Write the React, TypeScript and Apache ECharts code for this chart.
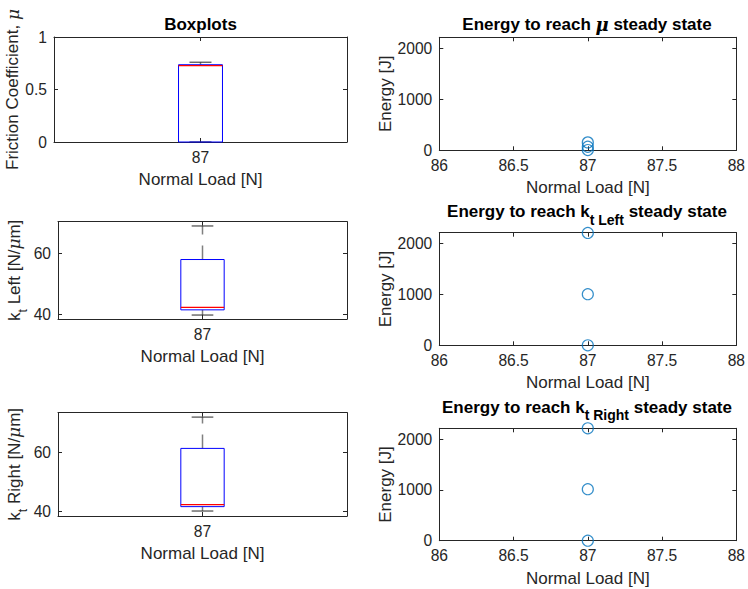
import React, { useEffect, useRef } from "react";
import * as echarts from "echarts";

// ---- data ----
const loadCategory = ["87"];
// boxplot statistics: [min, q1, median, q3, max]
const frictionStats = [0, 0, 0.727, 0.736, 0.76];
const ktLeftStats = [39.8, 41.5, 42.3, 58.0, 69.0];
const ktRightStats = [40.0, 41.5, 42.2, 61.4, 72.1];

const energyLoad = [87, 87, 87];
const energyMu = [5, 70, 155];
const energyKtLeft = [0, 1005, 2210];
const energyKtRight = [0, 1015, 2215];

const frictionTicks = [0, 0.5, 1];
const ktTicks = [40, 60];
const energyTicks = [0, 1000, 2000];

const TXT = "#262626";
const FONT = "Liberation Sans";
const TICK_FS = 15.6;
const LABEL_FS = 17;

const grids = [
  { left: 54, top: 37, width: 293, height: 105 },
  { left: 58, top: 221.7, width: 289, height: 97.3 },
  { left: 58, top: 412.7, width: 289, height: 103.3 },
  { left: 439.3, top: 37.3, width: 297.4, height: 113 },
  { left: 439.3, top: 232.7, width: 297.4, height: 112.6 },
  { left: 439.3, top: 428.3, width: 297.4, height: 112.4 },
];

const lineStyle = { color: TXT, width: 1 };

function xName(gridIndex: number, gap: number) {
  return {
    name: "Normal Load [N]",
    nameLocation: "middle",
    nameGap: gap,
    nameTextStyle: { fontSize: LABEL_FS, color: TXT, fontFamily: FONT },
  };
}

function catX(gridIndex: number, bottom: boolean) {
  return {
    type: "category",
    gridIndex,
    position: bottom ? "bottom" : "top",
    data: loadCategory,
    boundaryGap: true,
    axisLine: { show: true, onZero: false, lineStyle },
    axisTick: { show: true, inside: true, length: 4, alignWithLabel: true, lineStyle },
    axisLabel: {
      show: bottom,
      margin: 7,
      color: TXT,
      fontSize: TICK_FS,
      fontFamily: FONT,
    },
    splitLine: { show: false },
    ...(bottom ? xName(gridIndex, 29) : {}),
  };
}

function valX(gridIndex: number, bottom: boolean) {
  return {
    type: "value",
    gridIndex,
    position: bottom ? "bottom" : "top",
    min: 86,
    max: 88,
    interval: 0.5,
    axisLine: { show: true, onZero: false, lineStyle },
    axisTick: { show: true, inside: true, length: 4, lineStyle },
    axisLabel: {
      show: bottom,
      margin: 7,
      color: TXT,
      fontSize: TICK_FS,
      fontFamily: FONT,
      formatter: (v: number) => String(v),
    },
    splitLine: { show: false },
    ...(bottom ? xName(gridIndex, 29) : {}),
  };
}

function valY(
  gridIndex: number,
  left: boolean,
  min: number,
  max: number,
  ticks: number[],
  name?: string,
  nameGap?: number,
  rich?: any
) {
  const base: any = {
    type: "value",
    gridIndex,
    position: left ? "left" : "right",
    min,
    max,
    axisLine: { show: true, onZero: false, lineStyle },
    axisTick: { show: true, inside: true, length: 4, customValues: ticks, lineStyle },
    axisLabel: {
      show: left,
      customValues: ticks,
      margin: 7,
      color: TXT,
      fontSize: TICK_FS,
      fontFamily: FONT,
      formatter: (v: number) => String(v),
    },
    splitLine: { show: false },
  };
  if (left && name) {
    base.name = name;
    base.nameLocation = "middle";
    base.nameGap = nameGap;
    base.nameTextStyle = {
      fontSize: LABEL_FS,
      color: TXT,
      fontFamily: FONT,
      rich: rich,
    };
  }
  return base;
}

const muRich = {
  mu: { fontSize: LABEL_FS, color: TXT, fontFamily: "DejaVu Serif", fontStyle: "italic" },
};
const ktRich = {
  b: { fontSize: LABEL_FS, color: TXT, fontFamily: FONT, lineHeight: 30, verticalAlign: "middle" },
  mu: { fontSize: LABEL_FS, color: TXT, fontFamily: "DejaVu Serif", fontStyle: "italic", lineHeight: 30, verticalAlign: "middle" },
  s: { fontSize: 12.5, color: TXT, fontFamily: FONT, lineHeight: 12, verticalAlign: "bottom" },
};

function renderBox(params: any, api: any) {
  const cat = api.value(0);
  const mn = api.value(1);
  const q1 = api.value(2);
  const md = api.value(3);
  const q3 = api.value(4);
  const mx = api.value(5);
  const band = api.size([1, 0])[0];
  const hw = band * 0.075;
  const cw = band * 0.0375;
  const pMin = api.coord([cat, mn]);
  const pQ1 = api.coord([cat, q1]);
  const pMd = api.coord([cat, md]);
  const pQ3 = api.coord([cat, q3]);
  const pMax = api.coord([cat, mx]);
  const cx = pMin[0];
  const dash = { stroke: "#808080", lineWidth: 1.5, lineDash: [14, 11], fill: "none" };
  return {
    type: "group",
    children: [
      { type: "line", shape: { x1: cx, y1: pQ3[1], x2: cx, y2: pMax[1] }, style: dash },
      { type: "line", shape: { x1: cx, y1: pQ1[1], x2: cx, y2: pMin[1] }, style: dash },
      { type: "line", shape: { x1: cx - cw, y1: pMax[1], x2: cx + cw, y2: pMax[1] }, style: { stroke: "#262626", lineWidth: 1 } },
      { type: "line", shape: { x1: cx - cw, y1: pMin[1], x2: cx + cw, y2: pMin[1] }, style: { stroke: "#262626", lineWidth: 1 } },
      {
        type: "rect",
        shape: { x: cx - hw, y: pQ3[1], width: 2 * hw, height: pQ1[1] - pQ3[1] },
        style: { stroke: "#0000ff", fill: "none", lineWidth: 1 },
      },
      { type: "line", shape: { x1: cx - hw, y1: pMd[1], x2: cx + hw, y2: pMd[1] }, style: { stroke: "#ff0000", lineWidth: 1.2 } },
    ],
  };
}

function boxSeries(idx: number, stats: number[]) {
  return {
    type: "custom",
    xAxisIndex: idx * 2,
    yAxisIndex: idx * 2,
    renderItem: renderBox,
    encode: { x: 0, y: [1, 2, 3, 4, 5] },
    data: [[0, ...stats]],
    z: 5,
  };
}

function scatterSeries(idx: number, ys: number[]) {
  return {
    type: "scatter",
    xAxisIndex: idx * 2,
    yAxisIndex: idx * 2,
    symbol: "circle",
    symbolSize: 11,
    itemStyle: { color: "rgba(0,0,0,0)", borderColor: "#0072BD", borderWidth: 1.2 },
    data: energyLoad.map((x, i) => [x, ys[i]]),
    clip: false,
    z: 5,
  };
}

const titleBase = { fontSize: 17, fontWeight: "bold", fill: "#000", fontFamily: FONT };
const titleRich = {
  b: { fontSize: 17, fontWeight: "bold", fill: "#000", color: "#000", fontFamily: FONT, lineHeight: 30, verticalAlign: "middle" },
  mu: { fontSize: 18, fontWeight: "bold", fill: "#000", color: "#000", fontFamily: "DejaVu Serif", fontStyle: "italic", lineHeight: 30, verticalAlign: "middle" },
  s: { fontSize: 14, fontWeight: "bold", fill: "#000", color: "#000", fontFamily: FONT, lineHeight: 12, verticalAlign: "bottom" },
};

export default function App() {
  const ref = useRef<HTMLDivElement>(null);
  useEffect(() => {
    if (!ref.current) return;
    const chart = echarts.init(ref.current, undefined, { renderer: "svg" });
    const eMax = 2215;
    chart.setOption({
      animation: false,
      backgroundColor: "#ffffff",
      grid: grids.map((g) => ({ ...g, containLabel: false })),
      xAxis: [
        catX(0, true), catX(0, false),
        catX(1, true), catX(1, false),
        catX(2, true), catX(2, false),
        valX(3, true), valX(3, false),
        valX(4, true), valX(4, false),
        valX(5, true), valX(5, false),
      ],
      yAxis: [
        valY(0, true, 0, 1, frictionTicks, "Friction Coefficient, {mu|μ}", 30.5, muRich),
        valY(0, false, 0, 1, frictionTicks),
        valY(1, true, 38.5, 70.4, ktTicks, "{b|k}{s|t}{b| Left [N/}{mu|μ}{b|m]}", 29, ktRich),
        valY(1, false, 38.5, 70.4, ktTicks),
        valY(2, true, 38.3, 73.6, ktTicks, "{b|k}{s|t}{b| Right [N/}{mu|μ}{b|m]}", 29, ktRich),
        valY(2, false, 38.3, 73.6, ktTicks),
        valY(3, true, 0, eMax, energyTicks, "Energy [J]", 44),
        valY(3, false, 0, eMax, energyTicks),
        valY(4, true, 0, eMax, energyTicks, "Energy [J]", 44),
        valY(4, false, 0, eMax, energyTicks),
        valY(5, true, 0, eMax, energyTicks, "Energy [J]", 44),
        valY(5, false, 0, eMax, energyTicks),
      ],
      series: [
        boxSeries(0, frictionStats),
        boxSeries(1, ktLeftStats),
        boxSeries(2, ktRightStats),
        scatterSeries(3, energyMu),
        scatterSeries(4, energyKtLeft),
        scatterSeries(5, energyKtRight),
      ],
      graphic: [
        {
          type: "text",
          x: 200.5,
          y: 24,
          style: { ...titleBase, text: "Boxplots", align: "center", verticalAlign: "middle" },
        },
        {
          type: "text",
          x: 587,
          y: 24.3,
          style: {
            ...titleBase,
            text: "{b|Energy to reach }{mu|μ}{b| steady state}",
            rich: titleRich,
            align: "center",
            verticalAlign: "middle",
          },
        },
        {
          type: "text",
          x: 587,
          y: 211.7,
          style: {
            ...titleBase,
            text: "{b|Energy to reach k}{s|t Left}{b| steady state}",
            rich: titleRich,
            align: "center",
            verticalAlign: "middle",
          },
        },
        {
          type: "text",
          x: 587,
          y: 407.3,
          style: {
            ...titleBase,
            text: "{b|Energy to reach k}{s|t Right}{b| steady state}",
            rich: titleRich,
            align: "center",
            verticalAlign: "middle",
          },
        },
      ],
    });
    return () => chart.dispose();
  }, []);
  return (
    <div
      ref={ref}
      style={{ position: "absolute", left: 0, top: 0, width: 748, height: 589, background: "#fff" }}
    />
  );
}
